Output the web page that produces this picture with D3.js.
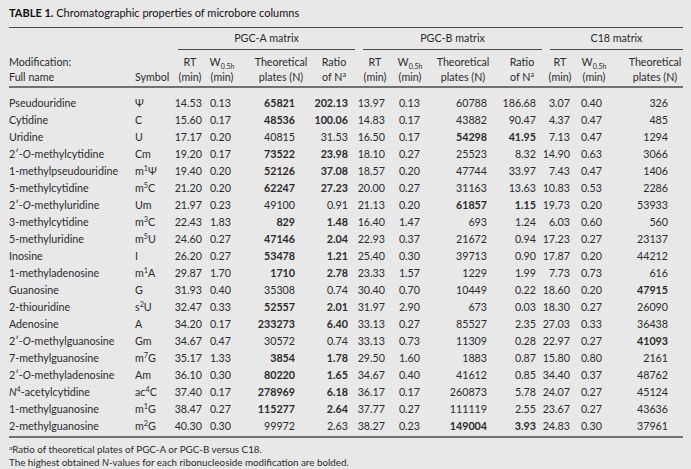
<!DOCTYPE html>
<html>
<head>
<meta charset="utf-8">
<script src="https://cdn.jsdelivr.net/npm/d3@7"></script>
<style>
  body { margin: 0; background: #e8e8e8; }
  svg { display: block; font-family: Lato, "Open Sans", sans-serif; }
</style>
</head>
<body>
<svg id="table"></svg>
<script>
// ---- data ----
var names = ["Pseudouridine", "Cytidine", "Uridine", "2\u2032-*O*-methylcytidine", "1-methylpseudouridine",
    "5-methylcytidine", "2\u2032-*O*-methyluridine", "3-methylcytidine", "5-methyluridine", "Inosine",
    "1-methyladenosine", "Guanosine", "2-thiouridine", "Adenosine", "2\u2032-*O*-methylguanosine",
    "7-methylguanosine", "2\u2032-*O*-methyladenosine", "*N*^4-acetylcytidine", "1-methylguanosine", "2-methylguanosine"];
var symbols = ["\u03a8", "C", "U", "Cm", "m^1\u03a8", "m^5C", "Um", "m^3C", "m^5U", "I",
    "m^1A", "G", "s^2U", "A", "Gm", "m^7G", "Am", "ac^4C", "m^1G", "m^2G"];

var rtA = [14.53, 15.60, 17.17, 19.20, 19.40, 21.20, 21.97, 22.43, 24.60, 26.20, 29.87, 31.93, 32.47, 34.20, 34.67, 35.17, 36.10, 37.40, 38.47, 40.30];
var wA = [0.13, 0.17, 0.20, 0.17, 0.20, 0.20, 0.23, 1.83, 0.27, 0.27, 1.70, 0.40, 0.33, 0.17, 0.47, 1.33, 0.30, 0.17, 0.27, 0.30];
var nA = [65821, 48536, 40815, 73522, 52126, 62247, 49100, 829, 47146, 53478, 1710, 35308, 52557, 233273, 30572, 3854, 80220, 278969, 115277, 99972];
var ratioA = [202.13, 100.06, 31.53, 23.98, 37.08, 27.23, 0.91, 1.48, 2.04, 1.21, 2.78, 0.74, 2.01, 6.40, 0.74, 1.78, 1.65, 6.18, 2.64, 2.63];

var rtB = [13.97, 14.83, 16.50, 18.10, 18.57, 20.00, 21.13, 16.40, 22.93, 25.40, 23.33, 30.40, 31.97, 33.13, 33.13, 29.50, 34.67, 36.17, 37.77, 38.27];
var wB = [0.13, 0.17, 0.17, 0.27, 0.20, 0.27, 0.20, 1.47, 0.37, 0.30, 1.57, 0.70, 2.90, 0.27, 0.73, 1.60, 0.40, 0.17, 0.27, 0.23];
var nB = [60788, 43882, 54298, 25523, 47744, 31163, 61857, 693, 21672, 39713, 1229, 10449, 673, 85527, 11309, 1883, 41612, 260873, 111119, 149004];
var ratioB = [186.68, 90.47, 41.95, 8.32, 33.97, 13.63, 1.15, 1.24, 0.94, 0.90, 1.99, 0.22, 0.03, 2.35, 0.28, 0.87, 0.85, 5.78, 2.55, 3.93];

var rtC = [3.07, 4.37, 7.13, 14.90, 7.43, 10.83, 19.73, 6.03, 17.23, 17.87, 7.73, 18.60, 18.30, 27.03, 22.97, 15.80, 34.40, 24.07, 23.67, 24.83];
var wC = [0.40, 0.47, 0.47, 0.63, 0.47, 0.53, 0.20, 0.60, 0.27, 0.20, 0.73, 0.20, 0.27, 0.33, 0.27, 0.80, 0.37, 0.27, 0.27, 0.30];
var nC = [326, 485, 1294, 3066, 1406, 2286, 53933, 560, 23137, 44212, 616, 47915, 26090, 36438, 41093, 2161, 48762, 45124, 43636, 37961];

var groups = ["PGC-A matrix", "PGC-B matrix", "C18 matrix"];

// ---- layout ----
var width = 691, height = 469,
    left = 9, right = 683,
    symX = 135,
    textColor = "#2b2b2b",
    ruleColor = "#4a4a4a";

var svg = d3.select("#table")
    .attr("width", width)
    .attr("height", height);

svg.append("rect")
    .attr("width", width)
    .attr("height", height)
    .attr("fill", "#e8e8e8");

// row positions
var y = d3.scalePoint()
    .domain(d3.range(names.length))
    .range([103, 426]);

// column right edges / header centres
var colKeys = ["rtA", "wA", "nA", "ratioA", "rtB", "wB", "nB", "ratioB", "rtC", "wC", "nC"];
var colRight = d3.scaleOrdinal().domain(colKeys)
    .range([202, 231, 295, 348, 385, 420, 487, 536, 570, 602, 668]);
var colHead = d3.scaleOrdinal().domain(colKeys)
    .range([190, 222, 281, 334, 375, 410, 463, 522, 560, 594, 655]);
var groupSpan = d3.scaleOrdinal().domain(groups)
    .range([[178, 355], [363, 542], [550, 683]]);

var columns = [
    {key: "rtA", values: rtA, fmt: d3.format(".2f"), head: "RT|(min)"},
    {key: "wA", values: wA, fmt: d3.format(".2f"), head: "W|(min)"},
    {key: "nA", values: nA, fmt: d3.format("d"), head: "Theoretical|plates (N)", bold: 0},
    {key: "ratioA", values: ratioA, fmt: d3.format(".2f"), head: "Ratio|of N^a", bold: 0},
    {key: "rtB", values: rtB, fmt: d3.format(".2f"), head: "RT|(min)"},
    {key: "wB", values: wB, fmt: d3.format(".2f"), head: "W|(min)"},
    {key: "nB", values: nB, fmt: d3.format("d"), head: "Theoretical|plates (N)", bold: 1},
    {key: "ratioB", values: ratioB, fmt: d3.format(".2f"), head: "Ratio|of N^a", bold: 1},
    {key: "rtC", values: rtC, fmt: d3.format(".2f"), head: "RT|(min)"},
    {key: "wC", values: wC, fmt: d3.format(".2f"), head: "W|(min)"},
    {key: "nC", values: nC, fmt: d3.format("d"), head: "Theoretical|plates (N)", bold: 2}
];

// which matrix gives the highest N per row
var best = names.map(function (d, i) {
    var arr = [nA[i], nB[i], nC[i]];
    return arr.indexOf(d3.max(arr));
});

// small markup: *italic*, ^x superscript
function rich(sel, str, size) {
    var parts = str.split(/(\*[^*]+\*|\^\w)/).filter(function (p) { return p.length; });
    var shift = 0;
    parts.forEach(function (p) {
        var t = sel.append("tspan");
        if (p[0] === "*") {
            t.text(p.slice(1, -1)).style("font-style", "italic");
        } else if (p[0] === "^") {
            t.text(p.slice(1)).attr("dy", -4).style("font-size", (size * 0.68) + "px");
            shift = 4;
            return;
        } else {
            t.text(p);
        }
        if (shift) { t.attr("dy", shift); shift = 0; }
    });
}

var fs = 10.7;

// title
var title = svg.append("text")
    .attr("x", left)
    .attr("y", 17)
    .attr("fill", "#111")
    .style("font-size", "11px");
title.append("tspan").text("TABLE 1.").style("font-weight", "bold");
title.append("tspan").text("  Chromatographic properties of microbore columns");

// rules
function rule(x1, x2, yy, w) {
    svg.append("line")
        .attr("x1", x1).attr("x2", x2)
        .attr("y1", yy).attr("y2", yy)
        .attr("stroke", ruleColor)
        .attr("stroke-width", w);
}
rule(left, right, 27.5, 1);
rule(left, right, 87, 1.6);
rule(left, right, 437, 1.6);

// group headers
groups.forEach(function (g) {
    var span = groupSpan(g);
    rule(span[0], span[1], 49.5, 1);
    svg.append("text")
        .attr("x", (span[0] + span[1]) / 2)
        .attr("y", 42)
        .attr("text-anchor", "middle")
        .attr("fill", textColor)
        .style("font-size", fs + "px")
        .text(g);
});

// stub headers
svg.append("text").attr("x", left).attr("y", 66).attr("fill", textColor)
    .style("font-size", fs + "px").text("Modification:");
svg.append("text").attr("x", left).attr("y", 81).attr("fill", textColor)
    .style("font-size", fs + "px").text("Full name");
svg.append("text").attr("x", symX).attr("y", 81).attr("fill", textColor)
    .style("font-size", fs + "px").text("Symbol");

// column headers
columns.forEach(function (c) {
    var lines = c.head.split("|");
    lines.forEach(function (l, k) {
        var t = svg.append("text")
            .attr("x", colHead(c.key))
            .attr("y", 66 + k * 15)
            .attr("text-anchor", "middle")
            .attr("fill", textColor)
            .style("font-size", fs + "px");
        if (l === "W") {
            t.append("tspan").text("W");
            t.append("tspan").text("0.5h").attr("dy", 3).style("font-size", "7px");
        } else {
            rich(t, l, fs);
        }
    });
});

// body
var rows = svg.append("g")
    .selectAll("g.row")
    .data(names)
    .enter()
    .append("g")
    .attr("class", "row")
    .attr("transform", function (d, i) { return "translate(0," + (y(i) + 4) + ")"; });

rows.append("text")
    .attr("x", left)
    .attr("fill", textColor)
    .style("font-size", fs + "px")
    .each(function (d) { rich(d3.select(this), d, fs); });

rows.append("text")
    .attr("x", symX)
    .attr("fill", textColor)
    .style("font-size", fs + "px")
    .each(function (d, i) { rich(d3.select(this), symbols[i], fs); });

columns.forEach(function (c) {
    rows.append("text")
        .attr("x", colRight(c.key))
        .attr("text-anchor", "end")
        .attr("fill", textColor)
        .style("font-size", fs + "px")
        .style("font-weight", function (d, i) {
            return c.bold !== undefined && best[i] === c.bold ? "bold" : null;
        })
        .text(function (d, i) { return c.fmt(c.values[i]); });
});

// footnotes
var f1 = svg.append("text").attr("x", left).attr("y", 453)
    .attr("fill", textColor).style("font-size", "9.8px");
f1.append("tspan").text("a").attr("dy", -3).style("font-size", "6.5px");
f1.append("tspan").text("Ratio of theoretical plates of PGC-A or PGC-B versus C18.").attr("dy", 3);

var f2 = svg.append("text").attr("x", left).attr("y", 466)
    .attr("fill", textColor).style("font-size", "9.8px");
rich(f2, "The highest obtained *N*-values for each ribonucleoside modification are bolded.", 9.8);
</script>
</body>
</html>
